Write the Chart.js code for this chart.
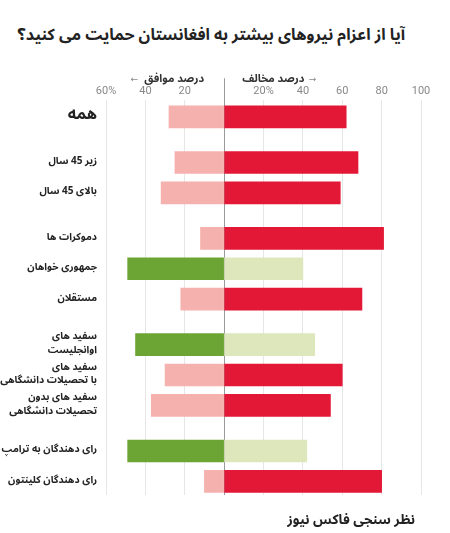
<!DOCTYPE html>
<html lang="fa">
<head>
<meta charset="utf-8">
<script src="https://cdn.jsdelivr.net/npm/chart.js@4.4.1/dist/chart.umd.min.js"></script>
<style>
  html, body { margin: 0; padding: 0; background: #fff; }
  #wrap { position: relative; width: 450px; height: 533px; overflow: hidden; }
  #title {
    position: absolute; top: 25px; right: 45px;
    font: bold 16px/20px 'Noto Sans Arabic', 'DejaVu Sans', sans-serif; color: #222;
    direction: rtl; white-space: nowrap;
  }
  #source {
    position: absolute; top: 511px; right: 35px;
    font: bold 13.5px/18px 'Noto Sans Arabic', 'DejaVu Sans', sans-serif; color: #222;
    direction: rtl; white-space: nowrap;
  }
  canvas { position: absolute; left: 0; top: 0; direction: rtl; }
</style>
</head>
<body>
<div id="wrap">
  <div id="title">آیا از اعزام نیروهای بیشتر به افغانستان حمایت می کنید؟</div>
  <canvas id="chart" width="450" height="533" dir="rtl"></canvas>
  <div id="source">نظر سنجی فاکس نیوز</div>
</div>
<script>
// groups (rows), top to bottom
const groups = [
  'همه',
  'زیر 45 سال',
  'بالای 45 سال',
  'دموکرات ها',
  'جمهوری خواهان',
  'مستقلان',
  ['سفید های', 'اوانجلیست'],
  ['سفید های', 'با تحصیلات دانشگاهی'],
  ['سفید های بدون', 'تحصیلات دانشگاهی'],
  'رای دهندگان به ترامپ',
  'رای دهندگان کلینتون'
];
// row slots (half slot gaps between blocks)
const rowPos = [0, 1.5, 2.5, 4, 5, 6, 7.5, 8.5, 9.5, 11, 12];
// percent agree (drawn to the left) / percent oppose (drawn to the right)
const agree  = [28, 25, 32, 12, 49, 22, 45, 30, 37, 49, 10];
const oppose = [62, 68, 59, 81, 40, 70, 46, 60, 54, 42, 80];
// groups the chart colours as leaning towards support
const supportSide = [false, false, false, false, true, false, true, false, false, true, false];
const xTicks = [-60, -40, -20, 0, 20, 40, 60, 80, 100];

const RED = '#e31837', PINK = '#f4b1ad', GREEN = '#6da534', PALEGREEN = '#dde7bb';
const FA = "'Noto Sans Arabic', 'DejaVu Sans', sans-serif";

const headerPlugin = {
  id: 'header',
  afterDraw(chart) {
    const ctx = chart.ctx;
    const x0 = chart.scales.x.getPixelForValue(0);
    const top = chart.chartArea.top;
    ctx.save();
    // zero line continues up through the header
    ctx.strokeStyle = '#9a9a9a';
    ctx.lineWidth = 1;
    ctx.beginPath();
    ctx.moveTo(Math.round(x0) + 0.5, top - 22);
    ctx.lineTo(Math.round(x0) + 0.5, top);
    ctx.stroke();

    ctx.direction = 'rtl';
    ctx.textBaseline = 'middle';
    ctx.fillStyle = '#333';
    ctx.font = 'bold 11px ' + FA;
    ctx.textAlign = 'right';
    ctx.fillText('درصد موافق', x0 - 20, top - 20);
    ctx.textAlign = 'left';
    ctx.fillText('درصد مخالف', x0 + 18, top - 20);
    const wl = ctx.measureText('درصد موافق').width;
    const wr = ctx.measureText('درصد مخالف').width;
    ctx.fillStyle = '#888';
    ctx.font = '9px ' + FA;
    ctx.textAlign = 'center';
    ctx.fillText('←', x0 - 20 - wl - 10, top - 20);
    ctx.fillText('→', x0 + 18 + wr + 8, top - 20);
    ctx.restore();
  }
};

new Chart(document.getElementById('chart'), {
  type: 'bar',
  data: {
    datasets: [
      {
        label: 'موافق',
        data: rowPos.map((p, i) => ({ x: -agree[i], y: p })),
        backgroundColor: supportSide.map(s => s ? GREEN : PINK),
        grouped: false,
        barThickness: 22,
        borderWidth: 0
      },
      {
        label: 'مخالف',
        data: rowPos.map((p, i) => ({ x: oppose[i], y: p })),
        backgroundColor: supportSide.map(s => s ? PALEGREEN : RED),
        grouped: false,
        barThickness: 22,
        borderWidth: 0
      }
    ]
  },
  options: {
    indexAxis: 'y',
    responsive: false,
    animation: false,
    layout: { padding: { left: 0, right: 29, top: 83, bottom: 38 } },
    plugins: {
      legend: { display: false },
      tooltip: { enabled: false }
    },
    scales: {
      x: {
        type: 'linear',
        position: 'top',
        min: -60,
        max: 100,
        afterBuildTicks: s => { s.ticks = xTicks.map(v => ({ value: v })); },
        border: { display: false },
        grid: {
          drawTicks: false,
          color: c => c.tick && c.tick.value === 0 ? '#9a9a9a' : '#e6e6e6'
        },
        ticks: {
          padding: 2,
          color: '#888',
          font: { family: 'Roboto', size: 11 },
          callback: v => v === 0 ? '' : (v === -60 || v === 20) ? Math.abs(v) + '%' : Math.abs(v)
        }
      },
      y: {
        type: 'linear',
        reverse: true,
        offset: false,
        min: -0.55,
        max: 12.45,
        afterBuildTicks: s => { s.ticks = rowPos.map(v => ({ value: v })); },
        afterFit: s => { s.width = 106; },
        border: { display: false },
        grid: { display: false, drawTicks: false, offset: false },
        ticks: {
          autoSkip: false,
          padding: 9,
          color: '#222',
          font: c => c.index === 0
            ? { family: FA, size: 16, weight: 'bold', lineHeight: 1.1 }
            : { family: FA, size: 10, weight: 'bold', lineHeight: 1.35 },
          callback: (v, i) => groups[rowPos.indexOf(v)]
        }
      }
    }
  },
  plugins: [headerPlugin]
});
</script>
</body>
</html>
